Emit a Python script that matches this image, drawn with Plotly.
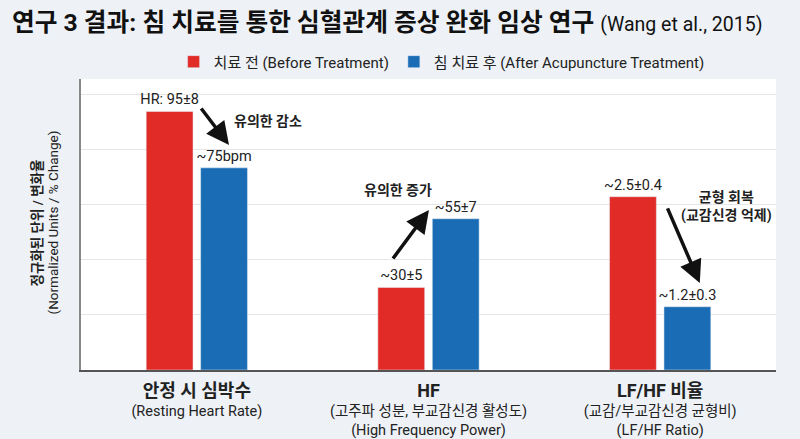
import plotly.graph_objects as go

# Categories and values (normalized units)
categories = ["안정 시 심박수", "HF", "LF/HF 비율"]
sub_kr = ["", "(고주파 성분, 부교감신경 활성도)", "(교감/부교감신경 균형비)"]
sub_en = ["(Resting Heart Rate)", "(High Frequency Power)", "(LF/HF Ratio)"]

before_vals = [94, 30, 63]
after_vals = [73.5, 55, 23]
before_labels = ["HR: 95±8", "~30±5", "~2.5±0.4"]
after_labels = ["~75bpm", "~55±7", "~1.2±0.3"]

RED = "#e02b27"
BLUE = "#1a6db5"
FONT = "Roboto, Noto Sans CJK KR, sans-serif"

ticktext = []
for c, k, e in zip(categories, sub_kr, sub_en):
    lines = ["<span style='font-size:18px'><b>%s</b></span>" % c]
    if k:
        lines.append(k)
    lines.append(e)
    ticktext.append("<br>".join(lines))

fig = go.Figure()
fig.add_trace(go.Bar(
    x=categories, y=before_vals, name="치료 전 (Before Treatment)",
    marker_color=RED, text=before_labels, textposition="outside",
    textfont=dict(size=14.5, color="#222"), cliponaxis=False,
    constraintext="none",
))
fig.add_trace(go.Bar(
    x=categories, y=after_vals, name="침 치료 후 (After Acupuncture Treatment)",
    marker_color=BLUE, text=after_labels, textposition="outside",
    textfont=dict(size=14.5, color="#222"), cliponaxis=False,
    constraintext="none",
))

# arrows: (head x, head y, tail x, tail y)
arrows = [
    (0.139, after_vals[0] + 8.3, 0.014, before_vals[0] + 1.6),
    (1.002, after_vals[1] + 3.2, 0.842, before_vals[1] + 10),
    (2.171, after_vals[2] + 8.6, 2.029, before_vals[2] - 3.7),
]
notes = [
    (0.307, 90.5, "유의한 감소"),
    (0.869, 65.5, "유의한 증가"),
    (2.288, 59.3, "균형 회복<br>(교감신경 억제)"),
]

annotations = []
for hx, hy, tx, ty in arrows:
    annotations.append(dict(
        x=hx, y=hy, ax=tx, ay=ty, xref="x", yref="y", axref="x", ayref="y",
        text="", showarrow=True, arrowhead=2, arrowsize=1.3, arrowwidth=3.5,
        arrowcolor="#111", standoff=0, startstandoff=0,
    ))
for nx, ny, t in notes:
    annotations.append(dict(
        x=nx, y=ny, xref="x", yref="y", text="<b>%s</b>" % t, showarrow=False,
        font=dict(size=14, color="#222"),
    ))

# y-axis title, two lines placed separately
annotations.append(dict(
    x=-0.0777, y=0.507, xref="paper", yref="paper", textangle=-90,
    text="<b>정규화된 단위 / 변화율</b>", showarrow=False,
    font=dict(size=13.5, color="#222"),
))
annotations.append(dict(
    x=-0.0547, y=0.507, xref="paper", yref="paper", textangle=-90,
    text="(Normalized Units / % Change)", showarrow=False,
    font=dict(size=13.5, color="#222"),
))

fig.update_layout(
    width=800, height=439,
    margin=dict(l=81, r=24, t=79, b=69),
    paper_bgcolor="#eef2f7", plot_bgcolor="white",
    font=dict(family=FONT, color="#222", size=13),
    title=dict(
        text="<b>연구 3 결과: 침 치료를 통한 심혈관계 증상 완화 임상 연구</b> "
             "<span style='font-size:19.5px'>(Wang et al., 2015)</span>",
        x=0.015, xanchor="left", xref="container",
        y=0.95, yanchor="middle", yref="container",
        font=dict(size=24.7, color="#111"),
    ),
    barmode="group", bargap=0.53, bargroupgap=0.14,
    showlegend=True,
    legend=dict(orientation="h", x=0.552, xanchor="center", xref="container",
                y=0.859, yanchor="middle", yref="container",
                font=dict(size=15), bgcolor="rgba(0,0,0,0)", itemwidth=30),
    annotations=annotations,
    xaxis=dict(
        tickvals=categories, ticktext=ticktext, showline=True, linecolor="#555",
        linewidth=1.5, ticks="", tickfont=dict(size=14.5, color="#222"),
        automargin=False, ticklabelstandoff=8,
    ),
    yaxis=dict(
        range=[0, 105.8], dtick=20, showticklabels=False, showgrid=True,
        gridcolor="#e6e6e6", showline=True, linecolor="#888", linewidth=1.5,
        zeroline=False, automargin=False,
    ),
)

fig.write_html("out.html", config={"displayModeBar": False},
               post_script="document.body.style.margin='0';")
